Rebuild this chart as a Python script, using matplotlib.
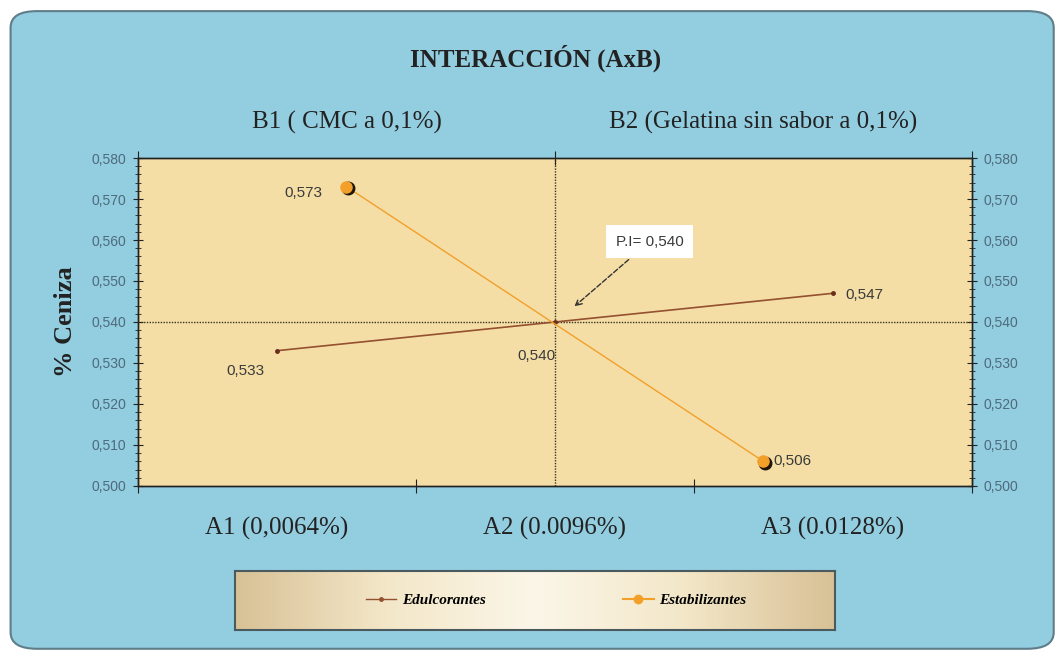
import numpy as np
import matplotlib.pyplot as plt
from matplotlib.patches import FancyBboxPatch
from matplotlib.lines import Line2D
from matplotlib.colors import LinearSegmentedColormap
import matplotlib.transforms as mtransforms

# data
a_labels = ['A1 (0,0064%)', 'A2 (0.0096%)', 'A3 (0.0128%)']
b_labels = ['B1 ( CMC a 0,1%)', 'B2 (Gelatina sin sabor a 0,1%)']
edulcorantes = [0.533, 0.540, 0.547]
estabilizantes = [0.573, 0.506]
punto_interseccion = 0.540

serif = 'Liberation Serif'
sans = 'Liberation Sans'
blue_bg = '#93cde0'
paper = '#f4dea6'
brown = '#94502f'
orange = '#f2a02a'
tick_col = '#4d6b7c'

fig = plt.figure(figsize=(10.59, 6.54), dpi=100)
fig.patch.set_facecolor('white')

# rounded light blue panel behind everything
panel = FancyBboxPatch((0.010, 0.008), 0.985, 0.975, boxstyle='round,pad=0,rounding_size=0.025',
                       transform=fig.transFigure, facecolor=blue_bg, edgecolor='#5f7d89',
                       linewidth=1.5, zorder=-10)
fig.patches.append(panel)

ax = fig.add_axes([0.1303, 0.2569, 0.7875, 0.5015])
ax.set_facecolor(paper)
x = np.arange(len(a_labels))
ax.set_xlim(-0.5, len(a_labels) - 0.5)
ax.set_ylim(0.500, 0.580)

# secondary category axis (B) on top
ax2 = ax.twiny()
xb = np.arange(len(b_labels)) + 0.5
ax2.set_xlim(0, len(b_labels))

# reference lines through the intersection
ax.axhline(punto_interseccion, color='#3b3222', ls=(0, (1, 1)), lw=1.0, zorder=2)
ax.axvline(1, color='#3b3222', ls=(0, (1, 1)), lw=1.0, zorder=2)

ax.plot(x, edulcorantes, color=brown, lw=1.2, marker='o', markersize=2.5,
        markerfacecolor='#6b2e1c', markeredgecolor='#6b2e1c', zorder=3)
ax2.plot(xb, estabilizantes, color=orange, lw=1.0, zorder=3)
shadow = mtransforms.offset_copy(ax2.transData, fig=fig, x=1.5, y=-1.5, units='dots')
ax2.plot(xb, estabilizantes, ls='none', marker='o', markersize=9, color='#1e1408',
         transform=shadow, zorder=4)
ax2.plot(xb, estabilizantes, ls='none', marker='o', markersize=8, color=orange,
         markeredgecolor=orange, zorder=5)

# data labels
lab = dict(fontsize=11, color='#3a3a3a', family=sans, textcoords='offset pixels', va='center')
ax.annotate('0,533', (x[0], edulcorantes[0]), xytext=(-32, -20), ha='center', **lab)
ax.annotate('0,540', (x[1], edulcorantes[1]), xytext=(-19, -34), ha='center', **lab)
ax.annotate('0,547', (x[2], edulcorantes[2]), xytext=(12, -2), ha='left', **lab)
ax2.annotate('0,573', (xb[0], estabilizantes[0]), xytext=(-43, -6), ha='center', **lab)
ax2.annotate('0,506', (xb[1], estabilizantes[1]), xytext=(10, 0), ha='left', **lab)

ax.annotate('P.I= 0,540', xy=(1.07, 0.5438), xytext=(1.34, 0.5596), fontsize=11,
            color='#3a3a3a', family=sans, ha='center', va='center',
            bbox=dict(boxstyle='square,pad=0.6', facecolor='white', edgecolor='none'),
            arrowprops=dict(arrowstyle='->', color='#333333', lw=1.0, ls='--',
                            shrinkA=2, shrinkB=0), zorder=6)

# y axis ticks on both sides
ax.set_yticks(np.arange(0.500, 0.5801, 0.010))
ax.set_yticks(np.arange(0.500, 0.5801, 0.002), minor=True)
ax.set_yticklabels([f'{v:.3f}'.replace('.', ',') for v in np.arange(0.500, 0.5801, 0.010)])
ax.tick_params(axis='y', which='both', left=True, right=True, labelright=True,
               direction='inout', colors='#222222', labelcolor=tick_col, labelsize=10)
ax.tick_params(axis='y', which='major', length=7, pad=5)
ax.tick_params(axis='y', which='minor', length=4)
for t in ax.get_yticklabels():
    t.set_family(sans)

# category axis A at bottom: boundaries as ticks, labels in between
ax.set_xticks(np.arange(-0.5, len(a_labels)))
ax.set_xticklabels([])
ax.set_xticks(x, minor=True)
ax.set_xticklabels(a_labels, minor=True, family=serif, fontsize=18, color='#222222')
ax.tick_params(axis='x', which='major', direction='inout', length=10, color='#222222')
ax.tick_params(axis='x', which='minor', length=0, pad=22)

ax2.set_xticks(np.arange(0, len(b_labels) + 1))
ax2.set_xticklabels([])
ax2.set_xticks(xb, minor=True)
ax2.set_xticklabels(b_labels, minor=True, family=serif, fontsize=18, color='#222222')
ax2.tick_params(axis='x', which='major', direction='inout', length=10, color='#222222')
ax2.tick_params(axis='x', which='minor', length=0, pad=17)

for a in (ax, ax2):
    for s in a.spines.values():
        s.set_color('#222222')
        s.set_linewidth(1.0)

ax.set_ylabel('% Ceniza', family=serif, fontsize=19, fontweight='bold', color='#222222', labelpad=10)
fig.text(0.506, 0.911, 'INTERACCIÓN (AxB)', family=serif, fontsize=18, fontweight='bold',
         color='#222222', ha='center', va='center')

# legend box with a soft gradient
lax = fig.add_axes([235 / 1059, 1 - 630 / 654, 600 / 1059, 59 / 654])
grad = np.linspace(0, 1, 256)
shade = 1 - np.abs(grad - 0.5) * 2
legend_cmap = LinearSegmentedColormap.from_list('legbg', ['#d8c196', '#f3e7c8', '#fbf6e8'])
lax.imshow(shade[np.newaxis, :], aspect='auto', cmap=legend_cmap, vmin=0, vmax=1,
           extent=(0, 1, 0, 1))
lax.set_xticks([])
lax.set_yticks([])
for s in lax.spines.values():
    s.set_color('#4b5a5e')
    s.set_linewidth(1.5)
handles = [Line2D([], [], color=brown, lw=1.0, marker='o', markersize=2.5),
           Line2D([], [], color=orange, lw=1.5, marker='o', markersize=6)]
leg = lax.legend(handles, ['Edulcorantes', 'Estabilizantes'], loc='center', ncol=2,
                 bbox_to_anchor=(0.535, 0.5), frameon=False, columnspacing=9.0,
                 handlelength=2.0, handletextpad=0.35,
                 prop=dict(family=serif, style='italic', weight='bold', size=11))

fig.savefig('out.png', dpi=100, facecolor=fig.get_facecolor())
